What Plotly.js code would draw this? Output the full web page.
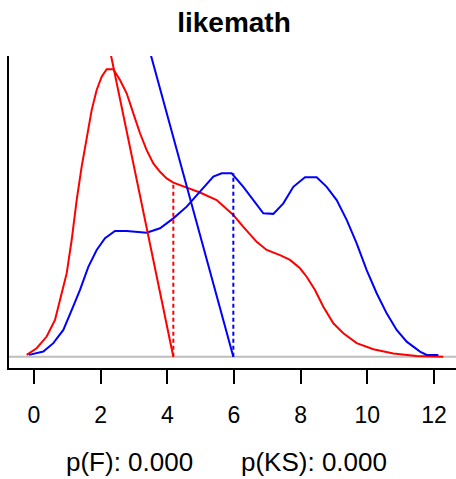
<!DOCTYPE html>
<html>
<head>
<meta charset="utf-8">
<script src="https://cdn.plot.ly/plotly-3.0.1.min.js"></script>
<style>html,body{margin:0;padding:0;background:#fff;}#chart{width:456px;height:479px;}</style>
</head>
<body>
<div id="chart"></div>
<script>
// Density curve (red group)
const redX = [-0.22,0.08,0.38,0.63,0.83,0.98,1.13,1.28,1.43,1.58,1.73,1.88,2.03,2.18,2.38,2.58,2.78,2.98,3.18,3.38,3.58,3.78,3.98,4.18,4.58,4.98,5.48,5.98,6.28,6.68,6.98,7.38,7.68,7.98,8.18,8.43,8.68,8.98,9.28,9.68,10.18,10.78,11.48,12.28];
const redY = [0.006,0.028,0.067,0.122,0.211,0.277,0.388,0.521,0.632,0.732,0.820,0.887,0.931,0.956,0.956,0.920,0.876,0.809,0.743,0.687,0.643,0.615,0.593,0.579,0.563,0.546,0.521,0.471,0.432,0.382,0.355,0.338,0.322,0.294,0.266,0.222,0.166,0.111,0.078,0.045,0.025,0.011,0.002,0.0];
// Density curve (blue group)
const blueX = [-0.15,0.28,0.58,0.88,1.13,1.38,1.63,1.88,2.13,2.43,2.78,3.38,3.78,4.18,4.58,4.98,5.38,5.63,5.93,6.28,6.58,6.88,7.18,7.48,7.78,8.13,8.48,8.78,9.08,9.38,9.68,9.98,10.28,10.58,10.88,11.18,11.58,11.78,12.13];
const blueY = [0.006,0.017,0.045,0.089,0.155,0.222,0.299,0.355,0.394,0.418,0.418,0.412,0.427,0.460,0.499,0.549,0.599,0.610,0.610,0.565,0.521,0.477,0.475,0.510,0.565,0.597,0.597,0.565,0.521,0.455,0.377,0.288,0.211,0.144,0.089,0.050,0.017,0.006,0.006];
// Group means and the height of each curve at its mean
const meanRed = 4.18, meanRedHeight = 0.579;
const meanBlue = 5.98, meanBlueHeight = 0.610;
// Slanted reference lines: bottom at the mean, passing through a top point
const redLineX = [4.18, 2.22];
const redLineY = [0, 1.05];
const blueLineX = [5.98, 3.39];
const blueLineY = [0, 1.05];
const xTicks = [0,2,4,6,8,10,12];
const titleText = "likemath";
const footTexts = ["p(F): 0.000", "p(KS): 0.000"];

const RED = "#ff0000", BLUE = "#0000ff";
const font = "Liberation Sans, Arial, sans-serif";

const traces = [
  {x: redX, y: redY, mode: "lines", line: {color: RED, width: 2}},
  {x: blueX, y: blueY, mode: "lines", line: {color: BLUE, width: 2}},
  {x: redLineX, y: redLineY, mode: "lines", line: {color: RED, width: 2}},
  {x: blueLineX, y: blueLineY, mode: "lines", line: {color: BLUE, width: 2}},
  {x: [meanRed, meanRed], y: [0, meanRedHeight], mode: "lines", line: {color: RED, width: 2, dash: "4px,3px"}},
  {x: [meanBlue, meanBlue], y: [0, meanBlueHeight], mode: "lines", line: {color: BLUE, width: 2, dash: "4px,3px"}}
];

const layout = {
  width: 456, height: 479,
  margin: {l: 9, r: 0, t: 56, b: 111, pad: 0},
  paper_bgcolor: "#fff", plot_bgcolor: "#fff",
  showlegend: false,
  font: {family: font, color: "#000", size: 23},
  title: {text: "<b>" + titleText + "</b>", x: 234/456, xanchor: "center", y: 1 - 22/479, yanchor: "middle", yref: "container", font: {family: font, size: 28, color: "#000"}},
  xaxis: {
    range: [-0.75, 12.66], tickmode: "array", tickvals: xTicks, ticktext: xTicks.map(String),
    ticks: "outside", ticklen: 14, tickwidth: 2, tickcolor: "#000",
    showline: true, linecolor: "#000", linewidth: 2, showgrid: false, zeroline: false,
    tickfont: {family: font, size: 23, color: "#000"}, ticklabelstandoff: 11
  },
  yaxis: {
    range: [-0.0376, 1.0], showline: true, linecolor: "#000", linewidth: 2,
    showticklabels: false, ticks: "", showgrid: false, zeroline: false
  },
  shapes: [
    {type: "line", xref: "paper", x0: 0, x1: 1, yref: "y", y0: 0, y1: 0, line: {color: "#bebebe", width: 2}, layer: "below"}
  ],
  annotations: [
    {text: footTexts[0], xref: "paper", yref: "paper", x: (64-9)/447, y: (368-462)/312, xanchor: "left", yanchor: "middle", showarrow: false, font: {family: font, size: 26, color: "#000"}},
    {text: footTexts[1], xref: "paper", yref: "paper", x: (239-9)/447, y: (368-462)/312, xanchor: "left", yanchor: "middle", showarrow: false, font: {family: font, size: 26, color: "#000"}}
  ]
};

Plotly.newPlot("chart", traces, layout, {displayModeBar: false, staticPlot: true});
</script>
</body>
</html>
